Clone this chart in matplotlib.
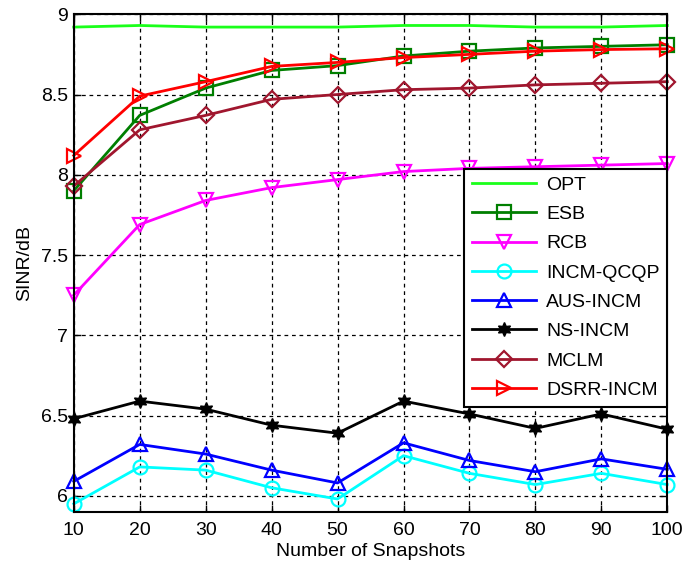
import matplotlib
matplotlib.use("Agg")
import matplotlib.pyplot as plt

plt.rcParams['font.family'] = ['Liberation Sans', 'DejaVu Sans']

snapshots = [10, 20, 30, 40, 50, 60, 70, 80, 90, 100]

opt = [8.92, 8.93, 8.92, 8.92, 8.92, 8.93, 8.93, 8.92, 8.92, 8.93]
esb = [7.90, 8.37, 8.54, 8.65, 8.68, 8.74, 8.77, 8.79, 8.80, 8.81]
rcb = [7.25, 7.69, 7.84, 7.92, 7.97, 8.02, 8.04, 8.05, 8.06, 8.07]
incm_qcqp = [5.95, 6.18, 6.16, 6.05, 5.98, 6.25, 6.14, 6.07, 6.14, 6.07]
aus_incm = [6.09, 6.32, 6.26, 6.16, 6.08, 6.33, 6.22, 6.15, 6.23, 6.165]
ns_incm = [6.48, 6.59, 6.54, 6.44, 6.39, 6.59, 6.51, 6.42, 6.51, 6.415]
mclm = [7.93, 8.28, 8.37, 8.47, 8.50, 8.53, 8.54, 8.56, 8.57, 8.58]
dsrr_incm = [8.12, 8.49, 8.58, 8.675, 8.70, 8.73, 8.75, 8.77, 8.78, 8.785]

fig = plt.figure(figsize=(6.83, 5.70), dpi=100)
ax = fig.add_axes([0.108, 0.102, 0.869, 0.873])

lw = 2.0
ms = 10
mew = 1.6
kw = dict(lw=lw, ms=ms, mfc='none', mew=mew, clip_on=False)
ax.plot(snapshots, opt, color='#1aff1a', lw=lw, label='OPT', clip_on=False)
ax.plot(snapshots, esb, color='#007f00', marker='s', label='ESB', **kw)
ax.plot(snapshots, rcb, color='#ff00ff', marker='v', label='RCB', **kw)
ax.plot(snapshots, incm_qcqp, color='#00ffff', marker='o', label='INCM-QCQP', **kw)
ax.plot(snapshots, aus_incm, color='#0000ff', marker='^', label='AUS-INCM', **kw)
ax.plot(snapshots, ns_incm, color='black', lw=lw, marker=(6, 1, 0), ms=ms, mew=1.0,
        label='NS-INCM', clip_on=False)
ax.plot(snapshots, mclm, color='#a0162e', lw=lw, marker='D', ms=ms - 2, mfc='none', mew=mew,
        label='MCLM', clip_on=False)
ax.plot(snapshots, dsrr_incm, color='#ff0000', marker='>', label='DSRR-INCM', **kw)

ax.set_xlim(10, 100)
ax.set_ylim(5.9, 9)
ax.set_xticks(snapshots)
ax.set_yticks([6, 6.5, 7, 7.5, 8, 8.5, 9])
ax.set_yticklabels(['6', '6.5', '7', '7.5', '8', '8.5', '9'])
ax.tick_params(direction='in', top=True, right=True, labelsize=14, length=5, width=1)
ax.tick_params(axis='x', pad=7)
ax.tick_params(axis='y', pad=4)
ax.grid(True, color='black', linestyle=(0, (3, 3)), linewidth=0.9)
for s in ax.spines.values():
    s.set_linewidth(1.5)

ax.set_xlabel('Number of Snapshots', fontsize=14, labelpad=3)
ax.set_ylabel('SINR/dB', fontsize=14, labelpad=6)

leg = ax.legend(loc='upper right', bbox_to_anchor=(1.0, 0.69), fontsize=14,
                fancybox=False, framealpha=1, edgecolor='black', borderaxespad=0,
                handlelength=3.3, borderpad=0.4, labelspacing=0.6, handletextpad=0.5)
leg.get_frame().set_linewidth(1.5)

fig.savefig('out.png', dpi=100)
